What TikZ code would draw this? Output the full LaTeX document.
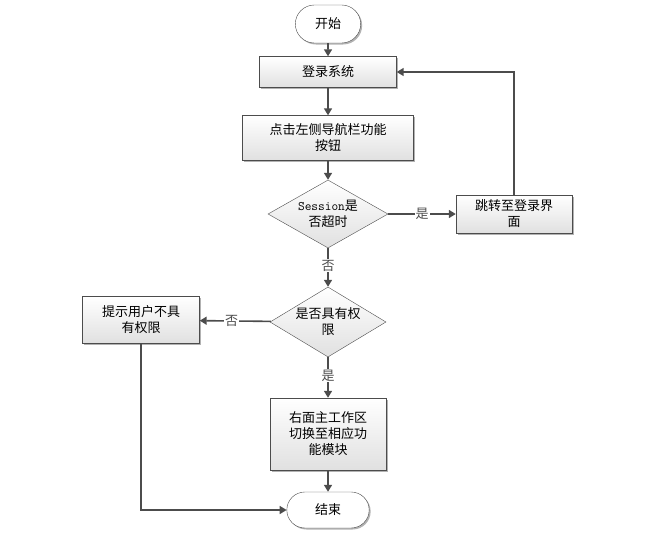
\documentclass[tikz,border=0pt]{standalone}
\usepackage{fontspec}
\setmainfont{Noto Sans CJK SC}
\usetikzlibrary{shapes.geometric, shapes.misc, arrows.meta, shadows}
\tikzstyle{every proc} = []
\tikzstyle{proc} = [rectangle, draw=black!70, top color=white, bottom color=black!12,
                    drop shadow={shadow xshift=1.5pt,shadow yshift=-1.5pt,fill=black!60},
                    align=center, inner sep=1pt, font=\fontsize{13pt}{16pt}\selectfont, every proc]
\tikzstyle{term} = [rounded rectangle, draw=black!70, fill=white,
                    drop shadow={shadow xshift=1.5pt,shadow yshift=-1.5pt,fill=black!60},
                    font=\fontsize{13pt}{16pt}\selectfont]
\tikzstyle{decision} = [diamond, draw=black!70, top color=white, bottom color=black!12,
                        align=center, inner sep=0pt, aspect=1.7, font=\fontsize{13pt}{16pt}\selectfont]
\tikzstyle{flow} = [-{Triangle[width=8pt,length=7pt]}, line width=1.6pt, black!70]
\tikzstyle{lbl} = [fill=white, inner sep=1pt, font=\fontsize{13pt}{16pt}\selectfont]

\begin{document}
\begin{tikzpicture}[x=1pt,y=-1pt]
  \useasboundingbox (0,0) rectangle (651,538);
  %Nodes
  \node[term, minimum width=72pt, minimum height=38pt] (start) at (328,24) {开始};
  \node[proc, minimum width=137pt, minimum height=31pt] (login) at (328,72) {登录系统};
  \node[proc, minimum width=171pt, minimum height=45pt] (click) at (328,138) {点击左侧导航栏功能\\按钮};
  \node[decision, minimum width=120pt, minimum height=68pt] (sess) at (328,214) {{\ttfamily Session}是\\否超时};
  \node[proc, minimum width=116pt, minimum height=38pt] (jump) at (514,214) {跳转至登录界\\面};
  \node[decision, minimum width=116pt, minimum height=70pt] (auth) at (328,322) {是否具有权\\限};
  \node[proc, minimum width=117pt, minimum height=47pt] (deny) at (141,320) {提示用户不具\\有权限};
  \node[proc, minimum width=116pt, minimum height=72pt] (work) at (328,434) {右面主工作区\\切换至相应功\\能模块};
  \node[term, minimum width=89pt, minimum height=36pt] (end) at (328,510) {结束};
  %Lines
  \draw[flow] (start) -- (login);
  \draw[flow] (login) -- (click);
  \draw[flow] (click) -- (sess);
  \draw[flow] (sess) -- node[lbl] {是} (jump);
  \draw[flow] (jump.north) |- (login.east);
  \draw[flow] (sess) -- node[lbl, pos=0.45] {否} (auth);
  \draw[flow] (auth) -- node[lbl, pos=0.55] {否} (deny);
  \draw[flow] (auth) -- node[lbl, pos=0.45] {是} (work);
  \draw[flow] (work) -- (end);
  \draw[flow] (deny.south) |- (end.west);
\end{tikzpicture}
\end{document}
